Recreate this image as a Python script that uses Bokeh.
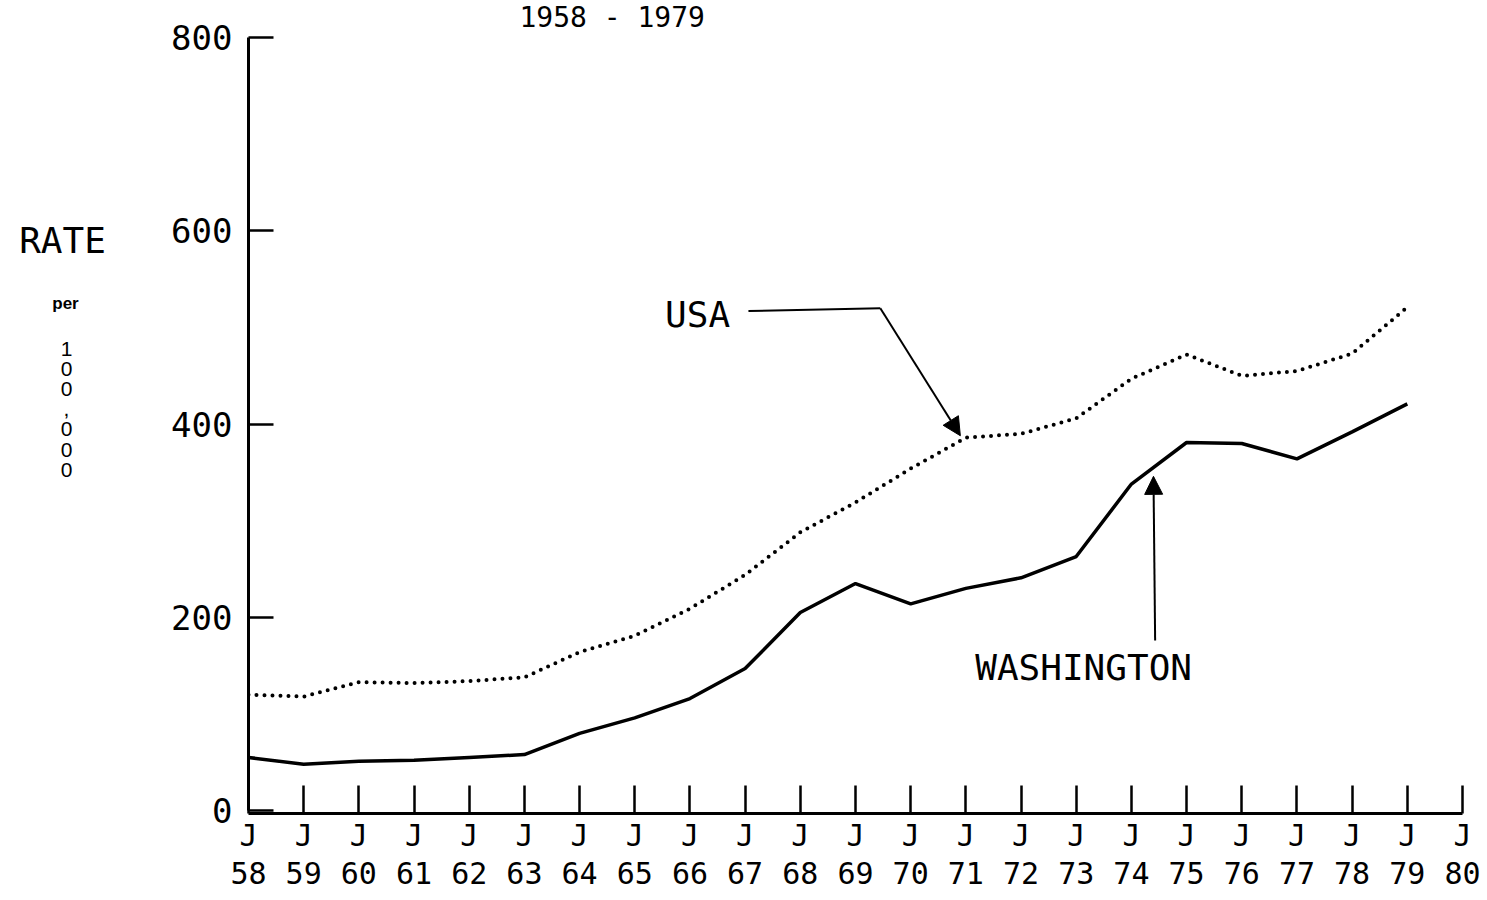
from bokeh.plotting import figure
from bokeh.layouts import row
from bokeh.models import Label, Arrow, NormalHead, FixedTicker, Range1d
from bokeh.embed import file_html
from bokeh.resources import INLINE

# ---- data (rate per 100,000) ----
years = [1958, 1959, 1960, 1961, 1962, 1963, 1964, 1965, 1966, 1967, 1968,
         1969, 1970, 1971, 1972, 1973, 1974, 1975, 1976, 1977, 1978, 1979]
usa = [120, 118, 133, 132, 134, 138, 164, 181, 209, 244, 288,
       319, 354, 386, 390, 406, 447, 472, 450, 455, 473, 521]
washington = [55, 48, 51, 52, 55, 58, 80, 96, 116, 147, 205,
              235, 214, 230, 241, 263, 338, 381, 380, 364, 392, 421]
x_ticks = list(range(1958, 1981))
x_tick_labels = ["J\n%02d" % (y % 100) for y in x_ticks]
y_ticks = [0, 200, 400, 600, 800]
y_tick_labels = ["0", "200", "400", "600", "800"]

MONO = "DejaVu Sans Mono"
LEFT_W = 120
TOTAL_W = 1487
H = 900
BOTTOM = 87
FRAME_H = H - BOTTOM

# ---------- left panel: y-axis caption ----------
side = figure(width=LEFT_W, height=H, output_backend="svg", toolbar_location=None,
              x_range=Range1d(0, LEFT_W), y_range=Range1d(FRAME_H, 0),
              x_axis_type=None, y_axis_type=None,
              min_border_left=0, min_border_right=0, min_border_top=0,
              min_border_bottom=BOTTOM)
side.outline_line_color = None
side.grid.visible = False
side.add_layout(Label(x=62, y=240, text="RATE", text_font=MONO,
                      text_font_size="36px", text_align="center",
                      text_baseline="middle", text_color="black"))
side.add_layout(Label(x=65, y=303, text="per", text_font="Liberation Sans",
                      text_font_size="17px", text_font_style="bold",
                      text_align="center", text_baseline="middle",
                      text_color="black"))
side.add_layout(Label(x=66, y=336, text="1\n0\n0\n,\n0\n0\n0",
                      text_font="Liberation Sans", text_font_size="21px",
                      text_align="center", text_baseline="top",
                      text_line_height=0.88, text_color="black"))

# ---------- main chart ----------
p = figure(width=TOTAL_W - LEFT_W, height=H, output_backend="svg",
           toolbar_location=None,
           x_range=Range1d(1958, 1980), y_range=Range1d(-3, 838.5),
           min_border_left=248 - LEFT_W, min_border_right=25, min_border_top=0,
           min_border_bottom=BOTTOM)
p.outline_line_color = None
p.grid.visible = False
p.background_fill_color = "white"
p.border_fill_color = "white"

xa = p.xaxis[0]
xa.ticker = FixedTicker(ticks=x_ticks)
xa.bounds = (1958, 1980)
xa.major_label_overrides = {t: l for t, l in zip(x_ticks, x_tick_labels)}
xa.major_tick_in = 28
xa.major_tick_out = 0
xa.minor_tick_line_color = None
xa.axis_line_width = 3
xa.major_tick_line_width = 2.5
xa.axis_line_color = "black"
xa.major_tick_line_color = "black"
xa.major_label_text_font = MONO
xa.major_label_text_font_size = "30px"
xa.major_label_text_color = "black"
xa.major_label_text_line_height = 1.1
xa.major_label_standoff = 4

ya = p.yaxis[0]
ya.ticker = FixedTicker(ticks=y_ticks)
ya.bounds = (0, 800)
ya.major_label_overrides = {t: l for t, l in zip(y_ticks, y_tick_labels)}
ya.major_tick_in = 25
ya.major_tick_out = 0
ya.minor_tick_line_color = None
ya.axis_line_width = 3
ya.major_tick_line_width = 2.5
ya.axis_line_color = "black"
ya.major_tick_line_color = "black"
ya.major_label_text_font = MONO
ya.major_label_text_font_size = "34px"
ya.major_label_text_color = "black"
ya.major_label_standoff = 16

# series
p.line(years, usa, line_color="black", line_width=4, line_dash="0 8",
       line_cap="round")
p.line(years, washington, line_color="black", line_width=3.5)

# annotations
p.add_layout(Label(x=1965.55, y=513, text="USA", text_font=MONO,
                   text_font_size="36px", text_baseline="middle",
                   text_color="black"))
p.add_layout(Arrow(x_start=1967.06, y_start=517, x_end=1969.45, y_end=520,
                   end=None, line_width=2, line_color="black"))
p.add_layout(Arrow(x_start=1969.45, y_start=520, x_end=1970.9, y_end=388,
                   end=NormalHead(size=18, fill_color="black",
                                  line_color="black"),
                   line_width=2, line_color="black"))

p.add_layout(Label(x=1971.17, y=148, text="WASHINGTON", text_font=MONO,
                   text_font_size="36px", text_baseline="middle",
                   text_color="black"))
p.add_layout(Arrow(x_start=1974.43, y_start=176, x_end=1974.4, y_end=346,
                   end=NormalHead(size=18, fill_color="black",
                                  line_color="black"),
                   line_width=2, line_color="black"))

# title at the top
p.add_layout(Label(x=1964.59, y=838.5, text="1958 - 1979", text_font=MONO,
                   text_font_size="28px", text_align="center",
                   text_baseline="top", text_color="black"))

layout = row(side, p, spacing=0)
open("out.html", "w").write(file_html(layout, INLINE))
